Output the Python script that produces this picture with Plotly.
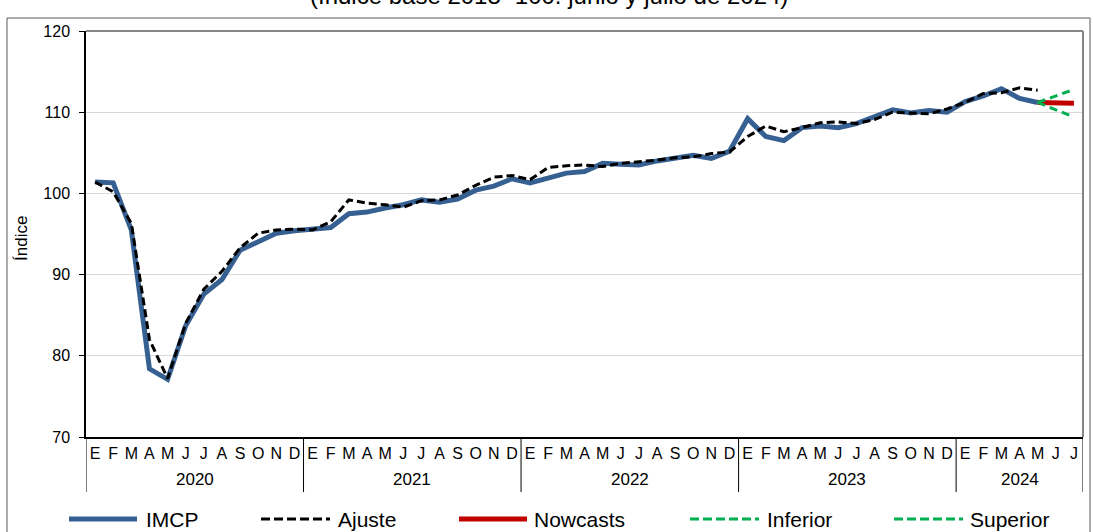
import plotly.graph_objects as go

# ---------------- data ----------------
month_letters = ["E", "F", "M", "A", "M", "J", "J", "A", "S", "O", "N", "D"]
years = ["2020", "2021", "2022", "2023", "2024"]
months_per_year = [12, 12, 12, 12, 7]

imcp = [
    101.4, 101.3, 95.5, 78.4, 77.1, 83.7, 87.6, 89.4, 93.0, 94.1, 95.1, 95.4,
    95.6, 95.8, 97.5, 97.7, 98.2, 98.6, 99.2, 98.9, 99.3, 100.4, 100.9, 101.8,
    101.3, 101.9, 102.5, 102.7, 103.7, 103.6, 103.5, 104.0, 104.4, 104.7, 104.3, 105.2,
    109.2, 107.0, 106.5, 108.1, 108.3, 108.1, 108.6, 109.5, 110.3, 109.9, 110.2, 110.0,
    111.3, 112.0, 112.9, 111.7, 111.2,
]
ajuste = [
    101.4, 100.2, 96.3, 82.0, 77.2, 84.0, 88.2, 90.4, 93.3, 95.1, 95.5, 95.6,
    95.5, 96.5, 99.2, 98.8, 98.6, 98.3, 99.1, 99.2, 99.8, 101.0, 102.0, 102.2,
    101.7, 103.2, 103.4, 103.5, 103.3, 103.7, 103.9, 104.1, 104.4, 104.5, 104.9, 105.1,
    107.0, 108.3, 107.6, 108.1, 108.7, 108.8, 108.6, 109.1, 110.0, 109.9, 109.8, 110.4,
    111.2, 112.3, 112.4, 113.0, 112.7,
]
nowcasts = [111.2, 111.2, 111.1]
inferior = [111.2, 110.3, 109.4]
superior = [111.2, 112.0, 112.8]

series_names = ["IMCP", "Ajuste", "Nowcasts", "Inferior", "Superior"]
title_text = "(Índice base 2018=100. junio y julio de 2024)"
y_title = "Índice"
y_ticks = [70, 80, 90, 100, 110, 120]

# ---------------- styling ----------------
FONT = "Liberation Sans, Arial, sans-serif"
BLUE = "#376092"
RED = "#C00000"
GREEN = "#00B050"
W, H = 1093, 532
ML, MR, MT, MB = 86, 10, 31, 95
PW, PH = W - ML - MR, H - MT - MB


def px_x(px):
    return (px - ML) / PW


def px_y(py):
    return (MT + PH - py) / PH


tick_text = []
for n in months_per_year:
    tick_text += month_letters[:n]
x_all = list(range(len(tick_text)))
x_hist = x_all[:len(imcp)]
x_fc = x_all[len(imcp) - 1:len(imcp) - 1 + len(nowcasts)]

fig = go.Figure()
fig.add_trace(go.Scatter(x=x_hist, y=imcp, mode="lines", name=series_names[0],
                         line=dict(color=BLUE, width=5)))
fig.add_trace(go.Scatter(x=x_hist, y=ajuste, mode="lines", name=series_names[1],
                         line=dict(color="black", width=3, dash="8px,4px")))
fig.add_trace(go.Scatter(x=x_fc, y=nowcasts, mode="lines", name=series_names[2],
                         line=dict(color=RED, width=5)))
fig.add_trace(go.Scatter(x=x_fc, y=inferior, mode="lines", name=series_names[3],
                         line=dict(color=GREEN, width=3, dash="8px,5px")))
fig.add_trace(go.Scatter(x=x_fc, y=superior, mode="lines", name=series_names[4],
                         line=dict(color=GREEN, width=3, dash="8px,5px")))

shapes = []
annotations = []

# plot-area border (top & right)
shapes.append(dict(type="line", xref="paper", yref="paper", x0=0, x1=1, y0=1, y1=1,
                   line=dict(color="#868686", width=2)))
shapes.append(dict(type="line", xref="paper", yref="paper", x0=1, x1=1, y0=0, y1=1,
                   line=dict(color="#868686", width=2)))
# outer chart border
shapes.append(dict(type="rect", xref="paper", yref="paper",
                   x0=px_x(7), x1=px_x(1090), y0=px_y(545), y1=px_y(18),
                   line=dict(color="#595959", width=1)))

# year dividers and year labels
start = 0
bounds = [-0.5]
for yr, n in zip(years, months_per_year):
    end = start + n
    bounds.append(end - 0.5)
    annotations.append(dict(text=yr, xref="x", yref="paper", x=(start + end - 1) / 2,
                            y=px_y(479), xanchor="center", yanchor="middle",
                            showarrow=False, font=dict(family=FONT, size=17, color="black")))
    start = end
for b in bounds:
    shapes.append(dict(type="line", xref="x", yref="paper", x0=b, x1=b,
                       y0=0, y1=px_y(492), line=dict(color="black", width=1)))

# title (partly cut at the top as in the reference)
annotations.append(dict(text=title_text, xref="paper", yref="paper", x=px_x(549),
                        y=px_y(-5), xanchor="center", yanchor="middle", showarrow=False,
                        font=dict(family=FONT, size=24, color="black")))
# y-axis title
annotations.append(dict(text=y_title, xref="paper", yref="paper", x=px_x(21),
                        y=px_y(239), xanchor="center", yanchor="middle", textangle=-90,
                        showarrow=False, font=dict(family=FONT, size=17, color="black")))

# legend drawn manually (long line samples like the original)
leg_y = px_y(519)
leg_items = [
    (series_names[0], 69, 137, 144, dict(color=BLUE, width=5)),
    (series_names[1], 261, 330, 336, dict(color="black", width=3, dash="9px,4px")),
    (series_names[2], 459, 527, 532, dict(color=RED, width=5)),
    (series_names[3], 690, 759, 765, dict(color=GREEN, width=3, dash="9px,4px")),
    (series_names[4], 894, 963, 968, dict(color=GREEN, width=3, dash="9px,4px")),
]
for name, x0, x1, tx, ln in leg_items:
    shapes.append(dict(type="line", xref="paper", yref="paper", x0=px_x(x0), x1=px_x(x1),
                       y0=leg_y, y1=leg_y, line=ln))
    annotations.append(dict(text=name, xref="paper", yref="paper", x=px_x(tx), y=leg_y,
                            xanchor="left", yanchor="middle", showarrow=False,
                            font=dict(family=FONT, size=21, color="black")))

fig.update_layout(
    width=W, height=H,
    margin=dict(l=ML, r=MR, t=MT, b=MB),
    paper_bgcolor="white", plot_bgcolor="white",
    showlegend=False,
    font=dict(family=FONT, size=15, color="black"),
    shapes=shapes, annotations=annotations,
    xaxis=dict(range=[-0.5, len(x_all) - 0.5], tickmode="array", tickvals=x_all,
               ticktext=tick_text, ticks="", showgrid=False, zeroline=False,
               showline=True, linecolor="black", linewidth=1.5,
               tickfont=dict(family=FONT, size=16, color="black"),
               ticklabelstandoff=1, tickangle=0),
    yaxis=dict(range=[70, 120], tickmode="array", tickvals=y_ticks, ticks="outside",
               ticklen=5, tickcolor="black", showgrid=True, gridcolor="#d9d9d9",
               gridwidth=1, zeroline=False, showline=True, linecolor="black",
               linewidth=1.5, tickfont=dict(family=FONT, size=16, color="black"),
               ticklabelstandoff=6),
)

fig.write_html(
    "out.html",
    config={"displayModeBar": False},
    post_script="document.body.style.margin='0';document.body.style.overflow='hidden';",
)
